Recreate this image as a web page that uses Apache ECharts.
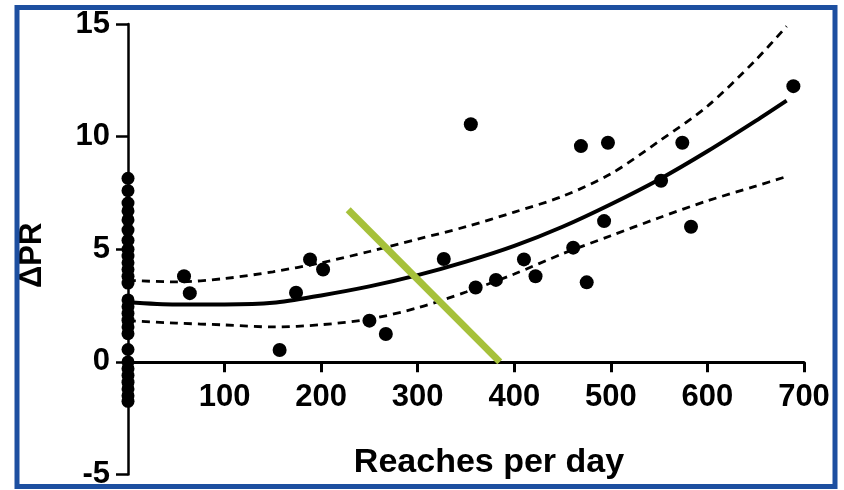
<!DOCTYPE html>
<html>
<head>
<meta charset="utf-8">
<script src="https://cdn.jsdelivr.net/npm/echarts@6/dist/echarts.min.js"></script>
<style>
html,body{margin:0;padding:0;background:#fff;}
#chart{width:844px;height:490px;}
</style>
</head>
<body>
<div id="chart"></div>
<script>
// ---- data ----
const xTickLabels = ['0','100','200','300','400','500','600','700'];
const yTickLabels = ['-5','0','5','10','15'];

// subjects with zero reaches per day (column on the y axis)
const zeroReachY = [8.15, 7.6, 7.05, 6.7, 6.3, 5.85, 5.4,
                    5.0, 4.7, 4.4, 4.1, 3.8, 3.5,
                    2.75, 2.45, 2.15, 1.85, 1.55, 1.25, 0.55,
                    0.0, -0.3, -0.6, -0.9, -1.2, -1.5, -1.75];

// other subjects
const reachX = [58, 64, 157, 174, 188.5, 202, 250, 267, 327, 355, 360, 381, 410, 422, 461, 469, 475, 493, 497, 552, 574, 583, 689];
const reachY = [3.8, 3.05, 0.53, 3.07, 4.55, 4.1, 1.83, 1.24, 4.57, 10.55, 3.3, 3.64, 4.55, 3.8, 5.07, 9.58, 3.53, 6.25, 9.73, 8.04, 9.73, 6.0, 12.24];

// fitted curve and confidence band
const curveX     = [0, 50, 100, 150, 200, 250, 300, 350, 400, 450, 500, 550, 600, 650, 682];
const curveMid   = [2.65, 2.55, 2.55, 2.62, 2.95, 3.35, 3.85, 4.45, 5.15, 6.0, 7.0, 8.1, 9.35, 10.7, 11.6];
const curveUpper = [3.62, 3.55, 3.7, 4.0, 4.4, 4.9, 5.45, 6.0, 6.65, 7.35, 8.35, 9.8, 11.35, 13.4, 14.9];
const curveLower = [1.83, 1.72, 1.64, 1.55, 1.65, 1.9, 2.4, 3.1, 3.9, 4.8, 5.6, 6.4, 7.15, 7.8, 8.23];

// green annotation stroke (data coordinates)
const greenX = [228, 385];
const greenY = [6.75, 0];

// ---- build ----
const zip = (xs, ys) => xs.map((x, i) => [x, ys[i]]);
const FONT = '"Liberation Sans", Arial, Helvetica, sans-serif';
const X_MIN = 0, X_MAX = 700, Y_MIN = -5, Y_MAX = 15;

// layout: plot grid, and a second grid whose bottom edge sits on y = 0 to carry the x axis
const gridTop = 24, gridBottom = 15, gridH = 490 - gridTop - gridBottom;
const zeroFromBottom = gridBottom + gridH * (0 - Y_MIN) / (Y_MAX - Y_MIN);

const chart = echarts.init(document.getElementById('chart'), null, {renderer: 'canvas'});
chart.setOption({
  animation: false,
  backgroundColor: '#ffffff',
  grid: [
    {left: 128, right: 40, top: gridTop, bottom: gridBottom, containLabel: false},
    {left: 128, right: 40, top: gridTop, bottom: zeroFromBottom, containLabel: false}
  ],
  xAxis: [
    {gridIndex: 0, type: 'value', min: X_MIN, max: X_MAX, interval: 100, show: false},
    {gridIndex: 1, type: 'value', min: X_MIN, max: X_MAX, interval: 100, position: 'bottom',
     name: 'Reaches per day', nameLocation: 'middle', nameGap: 83,
     nameTextStyle: {fontFamily: FONT, fontWeight: 'bold', fontSize: 34, color: '#000', padding: [0, 0, 0, 46]},
     axisLine: {show: true, onZero: false, lineStyle: {color: '#000', width: 3}},
     axisTick: {show: true, length: 10, lineStyle: {color: '#000', width: 3}},
     axisLabel: {margin: 20, fontFamily: FONT, fontWeight: 'bold', fontSize: 31, color: '#000',
       formatter: v => { const i = Math.round(v / 100); return i === 0 ? '' : xTickLabels[i]; }},
     splitLine: {show: false}}
  ],
  yAxis: [
    {gridIndex: 0, type: 'value', min: Y_MIN, max: Y_MAX, interval: 5,
     name: 'ΔPR', nameLocation: 'middle', nameGap: 80, nameRotate: 90,
     nameTextStyle: {fontFamily: FONT, fontWeight: 'bold', fontSize: 31, color: '#000', padding: [0, 12, 0, 0]},
     axisLine: {show: true, onZero: false, lineStyle: {color: '#000', width: 2.5}},
     axisTick: {show: true, length: 12, lineStyle: {color: '#000', width: 2.5}},
     axisLabel: {margin: 18, fontFamily: FONT, fontWeight: 'bold', fontSize: 31, color: '#000',
       formatter: v => yTickLabels[Math.round((v - Y_MIN) / 5)]},
     splitLine: {show: false}},
    {gridIndex: 1, type: 'value', min: 0, max: Y_MAX, show: false}
  ],
  series: [
    {type: 'line', data: zip(curveX, curveUpper), smooth: 0.3, symbol: 'none', clip: false, z: 3,
     lineStyle: {color: '#000', width: 2.8, type: [8, 6]}},
    {type: 'line', data: zip(curveX, curveLower), smooth: 0.3, symbol: 'none', clip: false, z: 3,
     lineStyle: {color: '#000', width: 2.8, type: [8, 6]}},
    {type: 'line', data: zip(curveX, curveMid), smooth: 0.3, symbol: 'none', clip: false, z: 3,
     lineStyle: {color: '#000', width: 4}},
    {type: 'scatter', data: zeroReachY.map(y => [0, y]), symbol: 'circle', symbolSize: 13, clip: false, z: 4,
     itemStyle: {color: '#000', opacity: 1}},
    {type: 'scatter', data: zip(reachX, reachY), symbol: 'circle', symbolSize: 14, clip: false, z: 4,
     itemStyle: {color: '#000', opacity: 1}},
    {type: 'line', data: zip(greenX, greenY), symbol: 'none', clip: false, z: 10,
     lineStyle: {color: '#a6c13a', width: 7, cap: 'butt'}}
  ],
  graphic: [{
    type: 'rect', z: 100, silent: true,
    shape: {x: 17, y: 7.5, width: 818, height: 479},
    style: {fill: 'none', stroke: '#1d4fa0', lineWidth: 5}
  }]
});
</script>
</body>
</html>
